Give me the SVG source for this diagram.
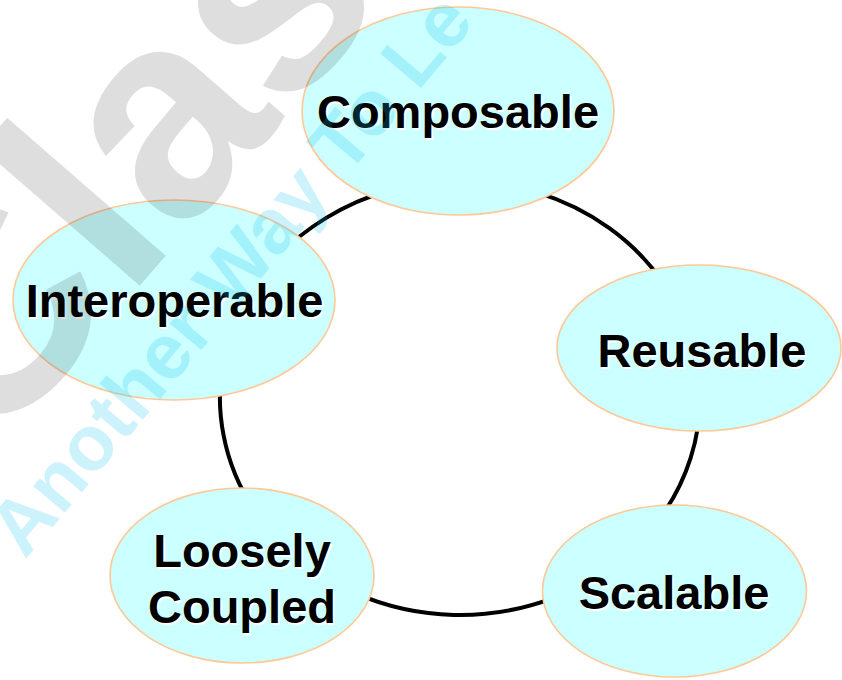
<svg xmlns="http://www.w3.org/2000/svg" width="842" height="680" viewBox="0 0 842 680">
  <style>
    .node { fill: #CCFFFF; stroke: #FFC896; stroke-width: 1.6; }
    .lbl { font-family: "Liberation Sans", Arial, sans-serif; font-weight: bold; font-size: 47px; text-anchor: middle; fill: #000000; }
    .shadow { fill: #FFFFFF; }
    .conn { fill: none; stroke: #000000; stroke-width: 4; }
    .wm1 { font-family: "Liberation Sans", Arial, sans-serif; font-weight: bold; font-size: 290px; fill: #000000; fill-opacity: 0.13; }
    .wm2 { font-family: "Liberation Sans", Arial, sans-serif; font-weight: bold; font-size: 78px; fill: #00BEEB; fill-opacity: 0.2; }
  </style>
  <rect x="0" y="0" width="842" height="680" fill="#FFFFFF"/>
  <g id="connectors">
    <path class="conn" d="M 460 181 A 240 217 0 0 1 693.8 349.2"/>
    <path class="conn" d="M 693.8 349.2 A 240 217 0 0 1 629.7 551.4"/>
    <path class="conn" d="M 629.7 551.4 A 240 217 0 0 1 281.6 543.2"/>
    <path class="conn" d="M 281.6 543.2 A 240 217 0 0 1 237.5 316.7"/>
    <path class="conn" d="M 237.5 316.7 A 240 217 0 0 1 460 181"/>
  </g>
  <g id="composable">
    <ellipse class="node" cx="458" cy="111" rx="156" ry="104"/>
    <text class="lbl shadow" x="459.5" y="129.5">Composable</text>
    <text class="lbl" x="458" y="128">Composable</text>
  </g>
  <g id="reusable">
    <ellipse class="node" cx="699" cy="348" rx="142" ry="83"/>
    <text class="lbl shadow" x="703.5" y="368.5">Reusable</text>
    <text class="lbl" x="702" y="367">Reusable</text>
  </g>
  <g id="scalable">
    <ellipse class="node" cx="674.5" cy="591" rx="132" ry="86"/>
    <text class="lbl shadow" x="675.5" y="610.5">Scalable</text>
    <text class="lbl" x="674" y="609">Scalable</text>
  </g>
  <g id="loosely-coupled">
    <ellipse class="node" cx="242" cy="575.5" rx="132" ry="87.5"/>
    <text class="lbl shadow" x="243.5" y="568.5">Loosely</text>
    <text class="lbl" x="242" y="567">Loosely</text>
    <text class="lbl shadow" x="243.5" y="624.5">Coupled</text>
    <text class="lbl" x="242" y="623">Coupled</text>
  </g>
  <g id="interoperable">
    <ellipse class="node" cx="174" cy="300" rx="161" ry="100"/>
    <text class="lbl shadow" x="176" y="318.5">Interoperable</text>
    <text class="lbl" x="174.5" y="317">Interoperable</text>
  </g>
  <g id="watermark">
    <text class="wm1" transform="translate(-11,459) rotate(-49)">Clas</text>
    <text class="wm2" transform="translate(25,560) rotate(-50)">Another Way To Le</text>
  </g>
</svg>
